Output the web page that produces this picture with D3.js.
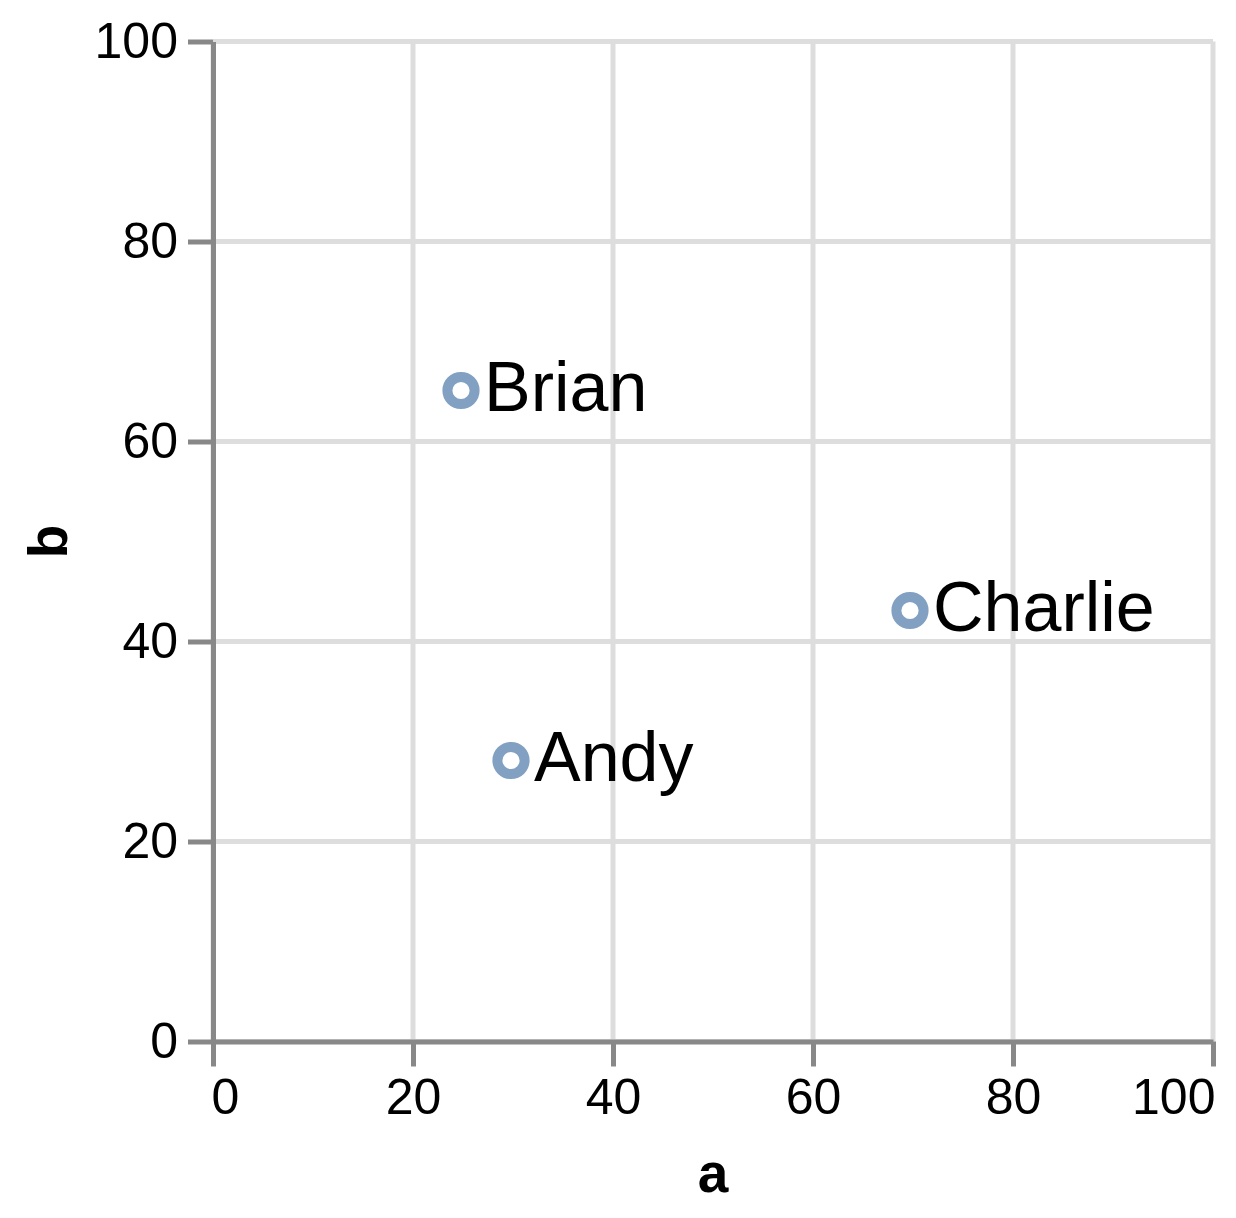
<!DOCTYPE html>
<html>
<head>
<meta charset="utf-8">
<script src="https://cdn.jsdelivr.net/npm/d3@7"></script>
<style>
  body { margin: 0; background: #fff; }
  svg text { font-family: Helvetica, Arial, "Liberation Sans", sans-serif; }
</style>
</head>
<body>
<svg id="chart" width="1236" height="1218"></svg>
<script>
"use strict";

// data
const names = ["Andy", "Brian", "Charlie"]
const aValues = [29.8, 24.8, 69.7]
const bValues = [28.1, 65.1, 43.1]
const tickValues = [0, 20, 40, 60, 80, 100]

const margin = {left: 213, top: 41.5}
const width = 1000
const height = 1000
const s = 5 // everything drawn at 5x

const svg = d3.select("#chart")
const g = svg.append("g").attr("transform", `translate(${margin.left},${margin.top})`)

const x = d3.scaleLinear().domain([0, 100]).range([0, width])
const y = d3.scaleLinear().domain([0, 100]).range([height, 0])

// grid
g.append("g").selectAll("line").data(tickValues).enter().append("line")
    .attr("x1", d => x(d)).attr("x2", d => x(d))
    .attr("y1", 0).attr("y2", height)
    .attr("stroke", "#ddd").attr("stroke-width", s)
g.append("g").selectAll("line").data(tickValues).enter().append("line")
    .attr("x1", 0).attr("x2", width)
    .attr("y1", d => y(d)).attr("y2", d => y(d))
    .attr("stroke", "#ddd").attr("stroke-width", s)

// x axis
const xAxis = g.append("g")
    .attr("transform", `translate(0,${height})`)
    .call(d3.axisBottom(x).tickValues(tickValues).tickSize(25).tickSizeOuter(0).tickPadding(10))
xAxis.select(".domain").attr("stroke", "#888").attr("stroke-width", s)
xAxis.selectAll(".tick line").attr("stroke", "#888").attr("stroke-width", s)
xAxis.selectAll(".tick text")
    .attr("font-size", 50).attr("fill", "#000")
    .attr("font-family", "Helvetica, Arial, 'Liberation Sans', sans-serif")
    .attr("dy", "0.75em")
    .attr("text-anchor", (d, i) => i === 0 ? "start" : (i === tickValues.length - 1 ? "end" : "middle"))
    .attr("dx", (d, i) => i === 0 ? -2 : (i === tickValues.length - 1 ? 2 : 0))

// y axis
const yAxis = g.append("g")
    .call(d3.axisLeft(y).tickValues(tickValues).tickSize(25).tickSizeOuter(0).tickPadding(10))
yAxis.select(".domain").attr("stroke", "#888").attr("stroke-width", s)
yAxis.selectAll(".tick line").attr("stroke", "#888").attr("stroke-width", s)
yAxis.selectAll(".tick text")
    .attr("font-size", 50).attr("fill", "#000")
    .attr("font-family", "Helvetica, Arial, 'Liberation Sans', sans-serif")

// axis titles
svg.append("text")
    .attr("x", margin.left + width / 2).attr("y", 1192)
    .attr("text-anchor", "middle")
    .attr("font-size", 55).attr("font-weight", "bold")
    .text("a")
svg.append("text")
    .attr("transform", `translate(67,${margin.top + height / 2}) rotate(-90)`)
    .attr("text-anchor", "middle")
    .attr("font-size", 55).attr("font-weight", "bold")
    .text("b")

// points
const pts = names.map((n, i) => ({name: n, a: aValues[i], b: bValues[i]}))
g.selectAll(".point").data(pts).enter().append("circle")
    .attr("class", "point")
    .attr("cx", d => x(d.a)).attr("cy", d => y(d.b))
    .attr("r", 13.6)
    .attr("fill", "none")
    .attr("stroke", "#4c78a8").attr("stroke-opacity", 0.7)
    .attr("stroke-width", 10)

// labels
g.selectAll(".label").data(pts).enter().append("text")
    .attr("class", "label")
    .attr("x", d => x(d.a) + 23).attr("y", d => y(d.b))
    .attr("dy", "0.29em")
    .attr("font-size", 70)
    .attr("fill", "#000")
    .text(d => d.name)
</script>
</body>
</html>
